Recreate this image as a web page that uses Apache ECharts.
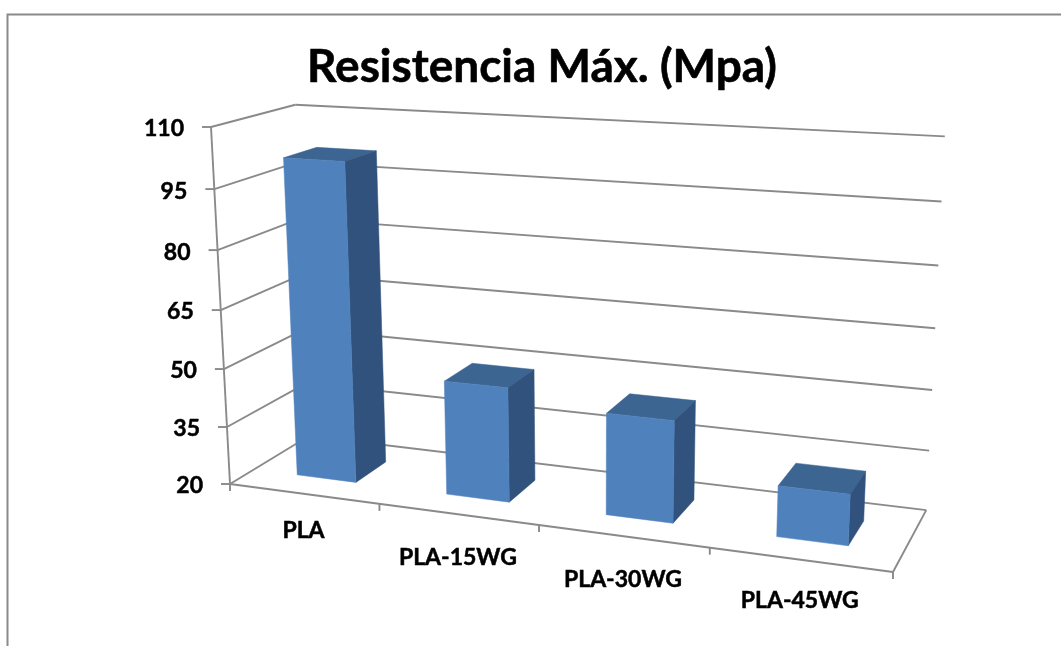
<!DOCTYPE html>
<html>
<head>
<meta charset="utf-8">
<script src="https://cdn.jsdelivr.net/npm/echarts@6/dist/echarts.min.js"></script>
<style>
  html, body { margin: 0; padding: 0; background: #fff; }
  #chart { width: 1061px; height: 646px; }
</style>
</head>
<body>
<div id="chart"></div>
<script>
const titleText = 'Resistencia Máx. (Mpa)'
const categories = ['PLA', 'PLA-15WG', 'PLA-30WG', 'PLA-45WG']
const resistance = [101.4, 49, 45.3, 32.4]
const yTicks = [20, 35, 50, 65, 80, 95, 110]

// perspective box: screen corners of the chart box and depth weight per axis
const origin = [230, 484]
const cornerU = [893, 572]
const cornerV = [211, 127]
const cornerW = [309, 436]
const weightU = 0.873
const weightV = 0.95
const weightW = 1.081

const lineColor = '#8a8a8a'
const faceFront = '#4f81bd'
const faceTop = '#3d6592'
const faceSide = '#31527c'
const fontFamily = 'Lato, "Open Sans", sans-serif'

// u, v, w are 0..1 along categories, values and depth
function project(u, v, w) {
  const d = 1 + u * (weightU - 1) + v * (weightV - 1) + w * (weightW - 1)
  return [0, 1].map(k => (
    origin[k] +
    u * (weightU * cornerU[k] - origin[k]) +
    v * (weightV * cornerV[k] - origin[k]) +
    w * (weightW * cornerW[k] - origin[k])
  ) / d)
}

const toU = (px, sys) => (px - sys.x) / sys.width
const toV = (py, sys) => (sys.y + sys.height - py) / sys.height

function seg(a, b) {
  return {
    type: 'line',
    shape: { x1: a[0], y1: a[1], x2: b[0], y2: b[1] },
    style: { stroke: lineColor, lineWidth: 1.9 }
  }
}

function label(text, x, y, align, size) {
  return {
    type: 'text',
    style: {
      text, x, y, align,
      verticalAlign: 'middle',
      fill: '#000',
      stroke: '#000',
      lineWidth: 0.5,
      font: `bold ${size}px ${fontFamily}`
    }
  }
}

// left wall, back wall and value ticks
function renderWall(params, api) {
  const v = toV(api.coord([0, api.value(1)])[1], params.coordSys)
  const front = project(0, v, 0)
  const back = project(0, v, 1)
  const children = []
  if (v > 0) {
    children.push(seg(front, back), seg(back, project(1, v, 1)))
  }
  children.push(seg([front[0] - 9, front[1]], front))
  children.push(label(String(api.value(1)), front[0] - 27, front[1] + 2, 'right', 23))
  return { type: 'group', children }
}

// floor edges and category ticks and labels
const labelDrop = [37, 43, 43, 41]
function renderFloor(params, api) {
  const sys = params.coordSys
  const i = api.value(0)
  const band = api.size([1, 0])[0]
  const cx = api.coord([i, 20])[0]
  const right = toU(cx + band / 2, sys)
  const tick = project(right, 0, 0)
  const children = [seg(tick, [tick[0], tick[1] + 7])]
  const mid = project(toU(cx, sys), 0, 0)
  children.push(label(categories[i], mid[0], mid[1] + labelDrop[i], 'center', 23))
  if (i === 0) {
    const o = project(0, 0, 0)
    const fr = project(1, 0, 0)
    const bl = project(0, 0, 1)
    const br = project(1, 0, 1)
    children.push(seg(o, fr), seg(fr, br), seg(bl, br), seg(o, bl))
    children.push(seg(project(0, 1, 0), o), seg(o, [o[0], o[1] + 7]))
  }
  return { type: 'group', children }
}

function renderBar(params, api) {
  const sys = params.coordSys
  const top = api.coord([api.value(0), api.value(1)])
  const base = api.coord([api.value(0), 20])
  const half = api.size([1, 0])[0] * 0.2
  const u0 = toU(top[0] - half, sys)
  const u1 = toU(top[0] + half, sys)
  const v1 = toV(top[1], sys)
  const v0 = toV(base[1], sys)
  const w0 = 0.29
  const w1 = 0.7
  const face = (points, fill) => ({
    type: 'polygon',
    shape: { points },
    style: { fill, stroke: fill, lineWidth: 0.5 }
  })
  return {
    type: 'group',
    children: [
      face([project(u0, v1, w0), project(u1, v1, w0), project(u1, v1, w1), project(u0, v1, w1)], faceTop),
      face([project(u1, v0, w0), project(u1, v1, w0), project(u1, v1, w1), project(u1, v0, w1)], faceSide),
      face([project(u0, v0, w0), project(u1, v0, w0), project(u1, v1, w0), project(u0, v1, w0)], faceFront)
    ]
  }
}

const chart = echarts.init(document.getElementById('chart'))
chart.setOption({
  animation: false,
  backgroundColor: '#fff',
  title: {
    text: titleText,
    left: 537,
    top: 39,
    textAlign: 'center',
    textStyle: {
      fontFamily,
      fontWeight: 'bold',
      fontSize: 46,
      color: '#000',
      textBorderColor: '#000',
      textBorderWidth: 0.6
    }
  },
  grid: { left: 230, top: 127, width: 663, height: 357 },
  xAxis: { type: 'category', data: categories, show: false },
  yAxis: { type: 'value', min: 20, max: 110, show: false },
  graphic: [{
    type: 'polyline',
    shape: { points: [[7.5, 646], [7.5, 14.5], [1061, 14.5]] },
    style: { stroke: lineColor, lineWidth: 2, fill: 'none' },
    silent: true
  }],
  series: [
    { type: 'custom', z: 1, silent: true, renderItem: renderWall, data: yTicks.map(t => [0, t]) },
    { type: 'custom', z: 1, silent: true, renderItem: renderFloor, data: categories.map((c, i) => [i, 20]) },
    { type: 'custom', z: 2, silent: true, renderItem: renderBar, data: resistance.map((v, i) => [i, v]) }
  ]
})
</script>
</body>
</html>
